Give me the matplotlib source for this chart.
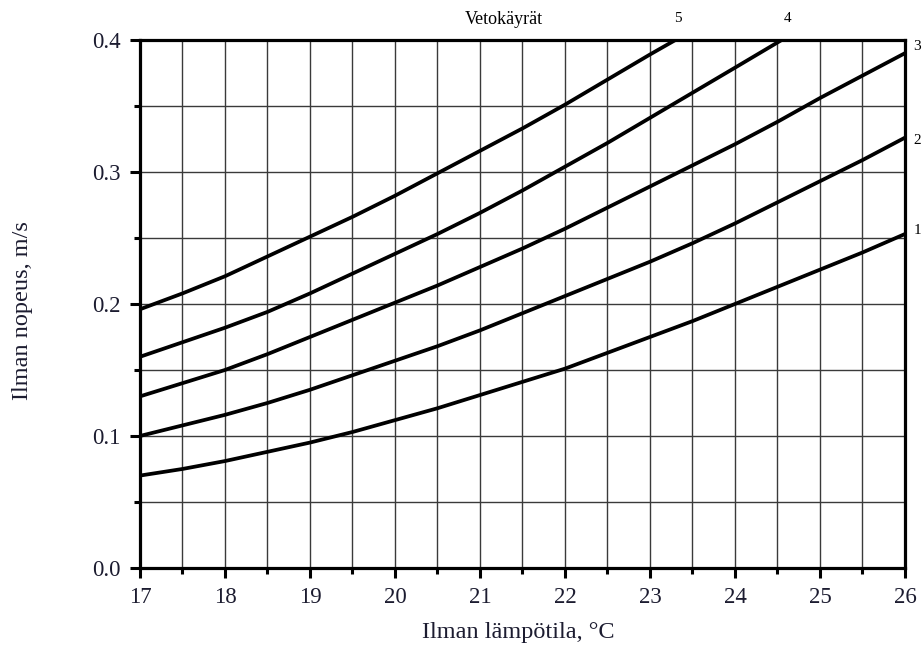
import matplotlib
matplotlib.use("Agg")
import matplotlib.pyplot as plt
from matplotlib.ticker import MultipleLocator

# lämpötila (°C) puolen asteen välein ja vetokäyrät 1-5 (luettu kuvasta)
lampotila = [17, 17.5, 18, 18.5, 19, 19.5, 20, 20.5, 21, 21.5, 22, 22.5,
             23, 23.5, 24, 24.5, 25, 25.5, 26]
kayra1 = [0.070, 0.075, 0.081, 0.088, 0.095, 0.103, 0.112, 0.121, 0.131, 0.141,
          0.151, 0.163, 0.175, 0.187, 0.200, 0.213, 0.226, 0.239, 0.253]
kayra2 = [0.100, 0.108, 0.116, 0.125, 0.135, 0.146, 0.157, 0.168, 0.180, 0.193,
          0.206, 0.219, 0.232, 0.246, 0.261, 0.277, 0.293, 0.309, 0.326]
kayra3 = [0.130, 0.140, 0.150, 0.162, 0.175, 0.188, 0.201, 0.214, 0.228, 0.242,
          0.257, 0.273, 0.289, 0.305, 0.321, 0.338, 0.356, 0.373, 0.390]
lampotila4 = [17, 17.5, 18, 18.5, 19, 19.5, 20, 20.5, 21, 21.5, 22, 22.5,
              23, 23.5, 24, 24.55]
kayra4 = [0.160, 0.171, 0.182, 0.194, 0.208, 0.223, 0.238, 0.253, 0.269, 0.286,
          0.304, 0.322, 0.341, 0.360, 0.379, 0.400]
lampotila5 = [17, 17.5, 18, 18.5, 19, 19.5, 20, 20.5, 21, 21.5, 22, 22.5,
              23, 23.3]
kayra5 = [0.196, 0.208, 0.221, 0.236, 0.251, 0.266, 0.282, 0.299, 0.316, 0.333,
          0.351, 0.370, 0.389, 0.400]

plt.rcParams["font.family"] = "Liberation Serif"

fig = plt.figure(figsize=(9.24, 6.48), dpi=100)
ax = fig.add_axes([0.1515, 0.1235, 0.8279, 0.8148])

for xs, ys in [(lampotila, kayra1), (lampotila, kayra2), (lampotila, kayra3),
               (lampotila4, kayra4), (lampotila5, kayra5)]:
    ax.plot(xs, ys, color="black", lw=2.7, solid_joinstyle="round")

ax.set_xlim(17, 26)
ax.set_ylim(0, 0.4)
ax.xaxis.set_major_locator(MultipleLocator(1))
ax.xaxis.set_minor_locator(MultipleLocator(0.5))
ax.set_yticks([0, 0.1, 0.2, 0.3, 0.4])
ax.set_yticklabels(["0.0", "0.1", "0.2", "0.3", "0.4"])
ax.yaxis.set_minor_locator(MultipleLocator(0.05))

ax.grid(True, which="both", color="#3a3a3a", lw=1.0)
ax.set_axisbelow(True)
for s in ax.spines.values():
    s.set_linewidth(2.3)
ax.tick_params(which="major", direction="out", length=7, width=2.2, labelsize=16.5,
               labelcolor="#1c1c30", pad=7)
ax.tick_params(which="minor", direction="out", length=4, width=2.2)

ax.set_xlabel("Ilman lämpötila, °C", fontsize=17.5, color="#1c1c30")
ax.xaxis.set_label_coords(0.494, -0.102)
ax.set_ylabel("Ilman nopeus, m/s", fontsize=17.5, color="#1c1c30")
ax.yaxis.set_label_coords(-0.14, 0.487)

fig.text(504 / 924, 1 - 19 / 648, "Vetokäyrät", fontsize=13, ha="center", va="center")
fig.text(678 / 924, 1 - 19 / 648, "5", fontsize=11, ha="center", va="center")
fig.text(788 / 924, 1 - 19 / 648, "4", fontsize=11, ha="center", va="center")
fig.text(917 / 924, 1 - 47 / 648, "3", fontsize=11, ha="center", va="center")
fig.text(917 / 924, 1 - 140 / 648, "2", fontsize=11, ha="center", va="center")
fig.text(917 / 924, 1 - 230 / 648, "1", fontsize=11, ha="center", va="center")

fig.savefig("out.png", dpi=100)
